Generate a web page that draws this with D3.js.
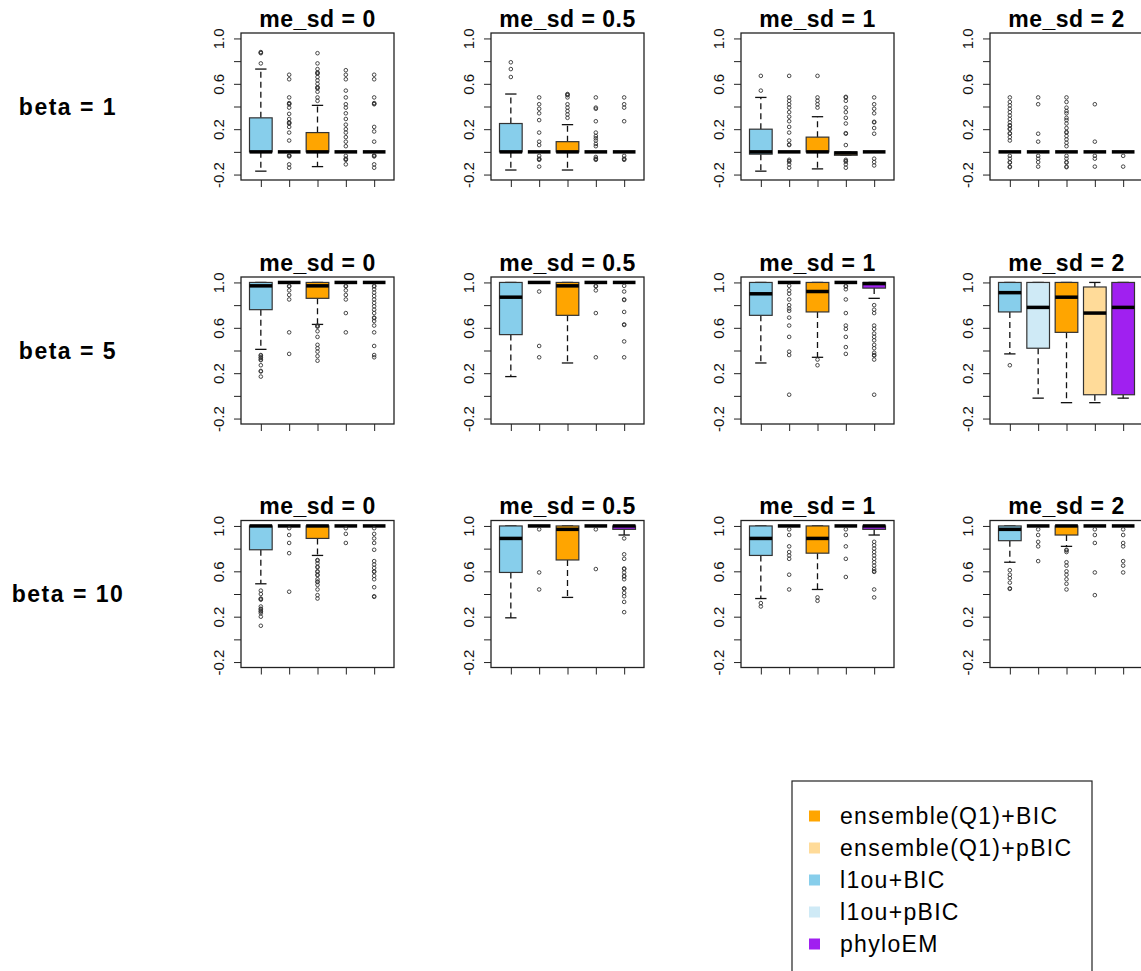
<!DOCTYPE html>
<meta charset="utf-8">
<head>
<style>
  body { margin:0; background:#fff; }
  svg text { font-family: "Liberation Sans", Arial, sans-serif; }
</style>
</head>

<script src="https://d3js.org/d3.v7.min.js"></script>

<div id="my_dataviz"></div>

<script>

// facets
var rowLabels = ["beta = 1", "beta = 5", "beta = 10"];
var colLabels = ["me_sd = 0", "me_sd = 0.5", "me_sd = 1", "me_sd = 2"];

// boxes inside each panel, left to right
var methods = ["l1ou+BIC", "l1ou+pBIC", "ensemble(Q1)+BIC", "ensemble(Q1)+pBIC", "phyloEM"];
var legendOrder = ["ensemble(Q1)+BIC", "ensemble(Q1)+pBIC", "l1ou+BIC", "l1ou+pBIC", "phyloEM"];

var yTicks = [-0.2, 0, 0.2, 0.4, 0.6, 0.8, 1.0];
var yTickLabels = ["-0.2", "", "0.2", "", "0.6", "", "1.0"];

// box stats per panel: [lower whisker, q1, median, q3, upper whisker]
var beta1Stats = [
  [[-0.17, 0, 0, 0.30, 0.73], [0, 0, 0, 0, 0], [-0.13, 0, 0, 0.17, 0.41], [0, 0, 0, 0, 0], [0, 0, 0, 0, 0]],
  [[-0.16, 0, 0, 0.25, 0.51], [0, 0, 0, 0, 0], [-0.16, 0, 0, 0.09, 0.24], [0, 0, 0, 0, 0], [0, 0, 0, 0, 0]],
  [[-0.17, -0.02, 0, 0.20, 0.48], [0, 0, 0, 0, 0], [-0.15, 0, 0, 0.13, 0.31], [-0.03, -0.03, -0.01, 0, 0], [0, 0, 0, 0, 0]],
  [[0, 0, 0, 0, 0], [0, 0, 0, 0, 0], [0, 0, 0, 0, 0], [0, 0, 0, 0, 0], [0, 0, 0, 0, 0]]
];
var beta5Stats = [
  [[0.41, 0.76, 0.97, 1, 1], [1, 1, 1, 1, 1], [0.63, 0.86, 0.97, 1, 1], [1, 1, 1, 1, 1], [1, 1, 1, 1, 1]],
  [[0.17, 0.54, 0.87, 1, 1], [1, 1, 1, 1, 1], [0.29, 0.71, 0.97, 1, 1], [1, 1, 1, 1, 1], [1, 1, 1, 1, 1]],
  [[0.29, 0.71, 0.90, 1, 1], [1, 1, 1, 1, 1], [0.34, 0.74, 0.92, 1, 1], [1, 1, 1, 1, 1], [0.86, 0.95, 0.99, 1, 1]],
  [[0.37, 0.74, 0.91, 1, 1], [-0.02, 0.42, 0.78, 1, 1], [-0.06, 0.56, 0.87, 1, 1], [-0.06, 0.01, 0.73, 0.96, 1], [-0.02, 0.01, 0.78, 1, 1]]
];
var beta10Stats = [
  [[0.49, 0.79, 1, 1, 1], [1, 1, 1, 1, 1], [0.74, 0.89, 1, 1, 1], [1, 1, 1, 1, 1], [1, 1, 1, 1, 1]],
  [[0.19, 0.59, 0.89, 1, 1], [1, 1, 1, 1, 1], [0.37, 0.70, 0.97, 1, 1], [1, 1, 1, 1, 1], [0.92, 0.97, 1, 1, 1]],
  [[0.36, 0.74, 0.89, 1, 1], [1, 1, 1, 1, 1], [0.44, 0.76, 0.89, 1, 1], [1, 1, 1, 1, 1], [0.92, 0.97, 1, 1, 1]],
  [[0.68, 0.87, 0.97, 1, 1], [1, 1, 1, 1, 1], [0.82, 0.92, 1, 1, 1], [1, 1, 1, 1, 1], [1, 1, 1, 1, 1]]
];

// outliers per panel, one list per box
var beta1Out = [
  [[0.87, 0.875, 0.88, 0.78],
   [0.68, 0.64, 0.48, 0.42, 0.425, 0.43, 0.39, 0.335, 0.29, 0.25, 0.255, 0.26, 0.22, 0.17, 0.1, -0.03, -0.035, -0.04, -0.11, -0.14],
   [0.87, 0.78, 0.73, 0.69, 0.695, 0.7, 0.66, 0.63, 0.6, 0.56, 0.565, 0.57, 0.53, 0.48, 0.45],
   [0.72, 0.68, 0.64, 0.54, 0.48, 0.42, 0.39, 0.34, 0.29, 0.24, 0.2, 0.17, 0.13, 0.09, 0.05, -0.035, -0.06, -0.065, -0.07, -0.11],
   [0.68, 0.64, 0.48, 0.42, 0.425, 0.43, 0.22, 0.18, 0.09, -0.03, -0.035, -0.04, -0.11, -0.14]],
  [[0.79, 0.73, 0.66],
   [0.48, 0.42, 0.38, 0.34, 0.28, 0.17, 0.09, 0.06, -0.035, -0.06, -0.065, -0.07, -0.13],
   [0.51, 0.505, 0.5, 0.48, 0.42, 0.39, 0.36, 0.33, 0.3],
   [0.48, 0.39, 0.38, 0.27, 0.17, 0.14, 0.12, 0.1, 0.07, 0.05, -0.045, -0.06, -0.065, -0.07],
   [0.48, 0.42, 0.39, 0.27, -0.035, -0.06, -0.065, -0.07]],
  [[0.67, 0.54],
   [0.67, 0.48, 0.45, 0.42, 0.39, 0.35, 0.31, 0.27, 0.22, 0.17, 0.1, 0.06, 0.065, -0.07, -0.08, -0.085, -0.11, -0.14],
   [0.67, 0.48, 0.45, 0.42, 0.39],
   [0.48, 0.485, 0.45, 0.39, 0.35, 0.3, 0.25, 0.16, 0.165, 0.06, -0.07, -0.08, -0.085, -0.11, -0.14],
   [0.48, 0.42, 0.38, 0.34, 0.26, 0.265, 0.21, 0.16, -0.06, -0.09, -0.12]],
  [[0.48, 0.44, 0.41, 0.38, 0.35, 0.32, 0.29, 0.26, 0.23, 0.235, 0.2, 0.205, 0.16, 0.165, 0.13, 0.1, -0.035, -0.06, -0.09, -0.095, -0.13, -0.135],
   [0.48, 0.42, 0.16, 0.09, -0.035, -0.06, -0.09, -0.13],
   [0.48, 0.44, 0.39, 0.36, 0.34, 0.3, 0.28, 0.25, 0.21, 0.17, 0.175, 0.14, 0.11, 0.08, 0.05, -0.035, -0.06, -0.09, -0.095, -0.13, -0.135],
   [0.42, 0.09, -0.035, -0.06, -0.13],
   [-0.035, -0.13]]
];
var beta5Out = [
  [[0.36, 0.355, 0.34, 0.335, 0.32, 0.315, 0.27, 0.22, 0.215, 0.17],
   [0.97, 0.965, 0.93, 0.89, 0.85, 0.56, 0.37],
   [0.62, 0.615, 0.61, 0.57, 0.52, 0.45, 0.42, 0.39, 0.35, 0.31],
   [0.97, 0.965, 0.93, 0.89, 0.85, 0.73, 0.56],
   [0.97, 0.965, 0.94, 0.91, 0.88, 0.85, 0.82, 0.79, 0.76, 0.73, 0.69, 0.685, 0.66, 0.62, 0.56, 0.44, 0.36, 0.34]],
  [[],
   [0.92, 0.44, 0.34],
   [],
   [0.97, 0.965, 0.93, 0.73, 0.34],
   [0.97, 0.92, 0.85, 0.845, 0.74, 0.63, 0.625, 0.48, 0.34]],
  [[],
   [0.97, 0.93, 0.9, 0.85, 0.8, 0.77, 0.75, 0.69, 0.62, 0.52, 0.39, 0.36, 0.01],
   [0.32, 0.27],
   [0.97, 0.965, 0.94, 0.85, 0.73, 0.62, 0.59, 0.52, 0.43, 0.37],
   [0.8, 0.76, 0.73, 0.62, 0.59, 0.55, 0.52, 0.49, 0.45, 0.42, 0.38, 0.36, 0.355, 0.32, 0.01]],
  [[0.27], [], [], [], []]
];
var beta10Out = [
  [[0.43, 0.4, 0.36, 0.355, 0.35, 0.29, 0.27, 0.265, 0.25, 0.245, 0.23, 0.2, 0.12],
   [0.98, 0.92, 0.85, 0.76, 0.42],
   [0.7, 0.695, 0.67, 0.64, 0.635, 0.6, 0.595, 0.57, 0.565, 0.53, 0.51, 0.505, 0.48, 0.44, 0.39, 0.36],
   [0.98, 0.93, 0.85],
   [0.98, 0.93, 0.89, 0.85, 0.79, 0.69, 0.66, 0.63, 0.6, 0.595, 0.56, 0.53, 0.46, 0.38, 0.375]],
  [[],
   [0.97, 0.59, 0.44],
   [],
   [0.97, 0.62],
   [0.89, 0.75, 0.71, 0.625, 0.62, 0.59, 0.56, 0.555, 0.53, 0.45, 0.445, 0.41, 0.38, 0.33, 0.24]],
  [[0.32, 0.29],
   [0.97, 0.92, 0.82, 0.77, 0.74, 0.71, 0.57, 0.44],
   [0.37, 0.34],
   [0.97, 0.92, 0.82, 0.71, 0.55],
   [0.86, 0.83, 0.8, 0.77, 0.74, 0.71, 0.68, 0.65, 0.62, 0.6, 0.595, 0.44, 0.37]],
  [[0.61, 0.57, 0.54, 0.5, 0.45, 0.445],
   [0.97, 0.92, 0.86, 0.82, 0.69],
   [0.79, 0.785, 0.77, 0.68, 0.65, 0.6, 0.57, 0.53, 0.49, 0.44],
   [0.97, 0.92, 0.85, 0.59, 0.39],
   [0.97, 0.92, 0.85, 0.82, 0.69, 0.65, 0.59]]
];

var allStats = [beta1Stats, beta5Stats, beta10Stats];
var allOut = [beta1Out, beta5Out, beta10Out];

// fill colour for each method
var color = d3.scaleOrdinal()
  .domain(methods)
  .range(["#87CEEB", "#CFEAF6", "#FFA500", "#FFDB99", "#A020F0"]);

// layout
var W = 1141, H = 971;
var pw = 153, ph = 147;
var colLeft = [241, 491, 741, 990];
var rowTop = [33, 277, 520.5];

var svg = d3.select("#my_dataviz")
  .append("svg")
    .attr("width", W)
    .attr("height", H)
    .style("display", "block");

var x = d3.scaleLinear().domain([0.3, 5.7]).range([0, pw]);
var y = d3.scaleLinear().domain([-0.248, 1.048]).range([ph, 0]);
var bw = x(0.8) - x(0);

// row labels
svg.selectAll(".rowlab")
  .data(rowLabels)
  .enter()
  .append("text")
    .attr("x", 68)
    .attr("y", function(d, i) { return rowTop[i] + ph / 2; })
    .attr("dy", "0.35em")
    .attr("text-anchor", "middle")
    .style("font-weight", "bold")
    .style("font-size", "23px")
    .style("letter-spacing", "1.5px")
    .text(function(d) { return d; });

rowLabels.forEach(function(rl, r) {
  colLabels.forEach(function(cl, c) {
    var g = svg.append("g")
      .attr("transform", "translate(" + colLeft[c] + "," + rowTop[r] + ")");

    // y axis
    var ya = g.append("g")
      .call(d3.axisLeft(y).tickValues(yTicks).tickSize(7)
        .tickFormat(function(d, i) { return yTickLabels[i]; }));
    ya.select(".domain").remove();
    ya.selectAll("line").attr("stroke", "#222");
    ya.selectAll("text")
      .attr("x", 0).attr("dy", null)
      .attr("transform", "translate(-17,0) rotate(-90)")
      .attr("text-anchor", "middle")
      .attr("fill", "#111")
      .style("font-size", "15px");

    // x axis ticks, no labels
    var xa = g.append("g")
      .attr("transform", "translate(0," + ph + ")")
      .call(d3.axisBottom(x).tickValues([1, 2, 3, 4, 5]).tickSize(7).tickFormat(""));
    xa.select(".domain").remove();
    xa.selectAll("line").attr("stroke", "#222");

    var stats = allStats[r][c];
    var outs = allOut[r][c];

    methods.forEach(function(m, i) {
      var s = stats[i];
      var cx = x(i + 1);
      var bx = g.append("g");

      // whiskers
      bx.selectAll(".wh")
        .data([[s[3], s[4]], [s[1], s[0]]])
        .enter()
        .append("line")
          .attr("x1", cx).attr("x2", cx)
          .attr("y1", function(d) { return y(d[0]); })
          .attr("y2", function(d) { return y(d[1]); })
          .attr("stroke", "#111")
          .attr("stroke-width", 1.3)
          .attr("stroke-dasharray", "6,4");

      // staples
      bx.selectAll(".st")
        .data([s[0], s[4]])
        .enter()
        .append("line")
          .attr("x1", cx - bw / 4).attr("x2", cx + bw / 4)
          .attr("y1", function(d) { return y(d); })
          .attr("y2", function(d) { return y(d); })
          .attr("stroke", "#111")
          .attr("stroke-width", 1.3);

      // box
      bx.append("rect")
        .attr("x", cx - bw / 2)
        .attr("width", bw)
        .attr("y", y(s[3]))
        .attr("height", y(s[1]) - y(s[3]))
        .attr("fill", color(m))
        .attr("stroke", "#333")
        .attr("stroke-width", 1.2);

      // median
      bx.append("line")
        .attr("x1", cx - bw / 2).attr("x2", cx + bw / 2)
        .attr("y1", y(s[2])).attr("y2", y(s[2]))
        .attr("stroke", "#000")
        .attr("stroke-width", 3.5);

      // outliers
      bx.selectAll("circle")
        .data(outs[i])
        .enter()
        .append("circle")
          .attr("cx", cx)
          .attr("cy", function(d) { return y(d); })
          .attr("r", 1.8)
          .attr("fill", "none")
          .attr("stroke", "#333")
          .attr("stroke-width", 0.9);
    });

    // plot frame
    g.append("rect")
      .attr("width", pw).attr("height", ph)
      .attr("fill", "none")
      .attr("stroke", "#222")
      .attr("stroke-width", 1.3);

    // panel title
    g.append("text")
      .attr("x", pw / 2)
      .attr("y", -6.5)
      .attr("text-anchor", "middle")
      .style("font-weight", "bold")
      .style("font-size", "23px")
      .style("letter-spacing", "0.5px")
      .text(cl);
  });
});

// legend
var leg = svg.append("g");
leg.append("rect")
  .attr("x", 792).attr("y", 781)
  .attr("width", 300).attr("height", 200)
  .attr("fill", "#fff")
  .attr("stroke", "#222")
  .attr("stroke-width", 1.2);

var li = leg.selectAll(".li")
  .data(legendOrder)
  .enter()
  .append("g")
    .attr("transform", function(d, i) { return "translate(0," + (816 + i * 32) + ")"; });

li.append("rect")
  .attr("x", 809).attr("y", -5.5)
  .attr("width", 11).attr("height", 11)
  .attr("fill", function(d) { return color(d); });

li.append("text")
  .attr("x", 840)
  .attr("dy", "0.35em")
  .style("font-size", "23px")
  .style("letter-spacing", "1.3px")
  .text(function(d) { return d; });

</script>
